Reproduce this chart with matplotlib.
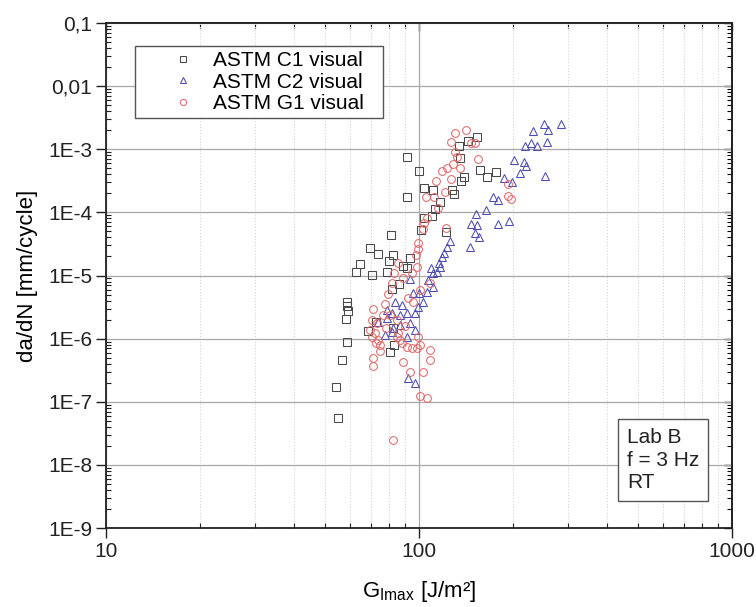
import numpy as np
import matplotlib
matplotlib.use('Agg')
import matplotlib.pyplot as plt
from matplotlib.ticker import FixedLocator, FixedFormatter, LogLocator, NullFormatter

plt.rcParams['font.family'] = ['Liberation Sans', 'DejaVu Sans']

# ---------------- data ----------------
c1_G = [91.3, 100, 91.8, 103.9, 110.7, 127.2, 129.6, 116.7, 112.9, 110.4,
        104.1, 101.5, 122.4, 134.4, 143.9, 152.7, 134.9, 156.6, 165.5, 176.2,
        139.4, 136.2, 81.4, 69.9, 73.9, 82.8, 80.2, 64.6, 62.9, 70.6,
        79.3, 88.6, 93.9, 91.3, 86.4, 81.7, 58.7, 59.2, 58.3, 58.7,
        56.9, 54.3, 55.0, 68.9, 82.8, 83.4, 80.8, 58.9, 72.9]
c1_dadn = [7.66e-4, 4.56e-4, 1.77e-4, 2.45e-4, 2.28e-4, 2.26e-4, 1.96e-4, 1.47e-4, 1.14e-4, 8.9e-5,
           8.27e-5, 5.24e-5, 4.96e-5, 1.145e-3, 1.37e-3, 1.59e-3, 7.31e-4, 4.63e-4, 3.59e-4, 4.35e-4,
           3.59e-4, 3.13e-4, 4.42e-5, 2.7e-5, 2.2e-5, 2.1e-5, 1.72e-5, 1.5e-5, 1.14e-5, 1.03e-5,
           1.15e-5, 1.42e-5, 1.87e-5, 1.3e-5, 7.44e-6, 6.15e-6, 3.79e-6, 2.73e-6, 2.01e-6, 8.9e-7,
           4.6e-7, 1.69e-7, 5.56e-8, 1.33e-6, 1.48e-6, 7.9e-7, 6.18e-7, 3.27e-6, 1.83e-6]

c2_G = [250.7, 283.6, 231.8, 258.9, 218.2, 227.5, 238.8, 255.9, 201.6, 216.6,
        219.8, 210.2, 251.8, 187.3, 198.2, 172.0, 178.4, 163.3, 152.1, 146.3,
        152.9, 178.2, 193.5, 151.0, 155.8, 145.6, 125.2, 122.6, 120.2, 118.2,
        115.7, 116.4, 114.2, 110.8, 109.0, 107.1, 111.2, 105.8, 93.6, 100.2,
        95.9, 103.2, 99.5, 97.1, 91.3, 87.0, 88.1, 83.8, 81.8, 78.9,
        78.9, 87.0, 93.6, 97.1, 81.8, 77.9, 91.3, 92.4, 97.1, 74.0, 82.6]
c2_dadn = [2.48e-3, 2.48e-3, 1.94e-3, 2.02e-3, 1.12e-3, 1.24e-3, 1.12e-3, 1.31e-3, 6.74e-4, 6.34e-4,
           5.42e-4, 4.15e-4, 3.83e-4, 3.46e-4, 3.05e-4, 1.77e-4, 1.57e-4, 1.11e-4, 9.4e-5, 6.53e-5,
           6.29e-5, 6.53e-5, 7.36e-5, 4.65e-5, 4.1e-5, 2.85e-5, 3.55e-5, 2.85e-5, 2.24e-5, 1.98e-5,
           1.55e-5, 1.37e-5, 1.14e-5, 1.08e-5, 1.3e-5, 8.46e-6, 6.67e-6, 5.52e-6, 8.67e-6, 5.32e-6,
           5.2e-6, 3.83e-6, 3.19e-6, 2.51e-6, 2.51e-6, 2.36e-6, 3.4e-6, 3.83e-6, 2.51e-6, 2.83e-6,
           2.09e-6, 1.64e-6, 1.74e-6, 1.36e-6, 1.28e-6, 1.14e-6, 1.07e-6, 2.34e-7, 1.95e-7, 1.83e-6, 1.47e-6]

g1_G = [130.3, 141.3, 126.1, 130.3, 146.1, 151.0, 131.9, 154.0, 128.7, 122.9,
        118.4, 134.9, 113.7, 126.9, 121.1, 104.9, 111.8, 115.3, 192.2, 192.0,
        196.8, 105.8, 103.9, 122.4, 103.0, 99.6, 99.5, 97.5, 98.2, 94.8,
        85.9, 83.2, 89.1, 81.8, 100.7, 108.4, 79.8, 77.9, 95.9, 92.2,
        71.5, 70.6, 73.2, 69.7, 72.3, 70.8, 74.1, 75.1, 75.1, 71.5,
        71.5, 84.9, 88.1, 91.3, 94.8, 98.3, 99.5, 100.7, 108.4, 108.4,
        89.1, 93.6, 103.2, 100.7, 105.8, 82.8, 84.9, 87.0, 78.5, 80.8,
        76.5, 86.0, 73.0, 90.5]
g1_dadn = [1.81e-3, 2.01e-3, 1.31e-3, 9.13e-4, 1.27e-3, 1.24e-3, 7.6e-4, 6.92e-4, 5.83e-4, 5.13e-4,
           4.6e-4, 4.98e-4, 3.17e-4, 3.37e-4, 2.12e-4, 1.77e-4, 1.77e-4, 1.19e-4, 2.83e-4, 1.79e-4,
           1.61e-4, 8.03e-5, 6.77e-5, 5.64e-5, 5.44e-5, 3.23e-5, 2.67e-5, 2.1e-5, 1.37e-5, 1.08e-5,
           1.55e-5, 1.08e-5, 9.0e-6, 7.5e-6, 5.87e-6, 7.5e-6, 5.07e-6, 3.52e-6, 3.83e-6, 4.38e-6,
           2.99e-6, 1.96e-6, 1.74e-6, 1.36e-6, 1.21e-6, 1.06e-6, 9.5e-7, 7.9e-7, 6.4e-7, 4.96e-7,
           3.67e-7, 1.07e-6, 8.4e-7, 7.4e-7, 7.2e-7, 7.0e-7, 1.06e-6, 7.9e-7, 6.6e-7, 4.56e-7,
           4.29e-7, 2.98e-7, 2.98e-7, 1.23e-7, 1.13e-7, 2.46e-8, 1.96e-6, 9.5e-7, 1.47e-6, 2.36e-6,
           2.4e-6, 1.25e-6, 8.6e-7, 1.6e-6]

series_labels = ['ASTM C1 visual', 'ASTM C2 visual', 'ASTM G1 visual']
x_ticks = [10, 100, 1000]
x_ticklabels = ['10', '100', '1000']
y_ticks = [1e-9, 1e-8, 1e-7, 1e-6, 1e-5, 1e-4, 1e-3, 1e-2, 1e-1]
y_ticklabels = ['1E-9', '1E-8', '1E-7', '1E-6', '1E-5', '1E-4', '1E-3', '0,01', '0,1']
note_text = 'Lab B\nf = 3 Hz\nRT'

# ---------------- figure ----------------
W, H = 756, 607
fig = plt.figure(figsize=(W / 100, H / 100), dpi=100)
L, R, T, B = 106, 732, 23, 528
ax = fig.add_axes([L / W, 1 - B / H, (R - L) / W, (B - T) / H])
ax.set_xscale('log')
ax.set_yscale('log')
ax.set_xlim(10, 1000)
ax.set_ylim(1e-9, 0.1)

mew = 0.75
ax.plot(c1_G, c1_dadn, ls='none', marker='s', mfc='none', mec='#4a4a4a', ms=5.2, mew=mew,
        label=series_labels[0], zorder=3)
ax.plot(c2_G, c2_dadn, ls='none', marker='^', mfc='none', mec='#4c4cb4', ms=6.0, mew=mew,
        label=series_labels[1], zorder=3)
ax.plot(g1_G, g1_dadn, ls='none', marker='o', mfc='none', mec='#e06a6a', ms=5.6, mew=mew,
        label=series_labels[2], zorder=3)

# ticks
ax.xaxis.set_major_locator(FixedLocator(x_ticks))
ax.xaxis.set_major_formatter(FixedFormatter(x_ticklabels))
ax.yaxis.set_major_locator(FixedLocator(y_ticks))
ax.yaxis.set_major_formatter(FixedFormatter(y_ticklabels))
for axis in (ax.xaxis, ax.yaxis):
    axis.set_minor_locator(LogLocator(base=10, subs=np.arange(2, 10), numticks=50))
    axis.set_minor_formatter(NullFormatter())
ax.tick_params(which='major', direction='out', length=7, width=1.0, labelsize=15,
               pad=3, colors='#222222')
ax.tick_params(which='minor', direction='in', length=3.5, width=0.8, colors='#222222')

# top / right mirrored ticks (inward)
sx = ax.secondary_xaxis('top')
sx.xaxis.set_major_locator(FixedLocator(x_ticks))
sx.xaxis.set_minor_locator(LogLocator(base=10, subs=np.arange(2, 10), numticks=50))
sx.xaxis.set_major_formatter(NullFormatter())
sx.xaxis.set_minor_formatter(NullFormatter())
sx.tick_params(which='major', direction='in', length=6, width=1.0)
sx.tick_params(which='minor', direction='in', length=3.5, width=0.8)
sy = ax.secondary_yaxis('right')
sy.yaxis.set_major_locator(FixedLocator(y_ticks))
sy.yaxis.set_minor_locator(LogLocator(base=10, subs=np.arange(2, 10), numticks=50))
sy.yaxis.set_major_formatter(NullFormatter())
sy.yaxis.set_minor_formatter(NullFormatter())
sy.tick_params(which='major', direction='in', length=6, width=1.0)
sy.tick_params(which='minor', direction='in', length=3.5, width=0.8)

for s in ax.spines.values():
    s.set_linewidth(1.3)
    s.set_color('#222222')
for sec in (sx, sy):
    for s in sec.spines.values():
        s.set_linewidth(1.3)
        s.set_color('#222222')

# grid
ax.grid(which='major', axis='both', color='#a8a8a8', lw=0.9, zorder=0)
ax.grid(which='minor', axis='x', color='#d4d4d4', ls=':', lw=0.8, zorder=0)
ax.set_axisbelow(True)

# labels
ax.set_ylabel('da/dN [mm/cycle]', fontsize=16)
ax.yaxis.set_label_coords(-0.108, 0.5)
ax.set_xlabel(r'G$_{\mathregular{Imax}}$ [J/m²]', fontsize=16)
ax.xaxis.set_label_coords(0.5, -0.100)

# legend
lx0 = (135 - L) / (R - L)
ly1 = 1 - (46 - T) / (B - T)
lw = (383 - 135) / (R - L)
lh = (128 - 46) / (B - T)
leg = ax.legend(loc='upper left', bbox_to_anchor=(lx0, ly1 - lh, lw, lh), mode='expand',
                fontsize=15, frameon=True, fancybox=False, borderaxespad=0,
                borderpad=0.25, labelspacing=0.12, handlelength=4.1, handletextpad=-0.6,
                markerscale=0.8)
leg.get_frame().set_edgecolor('#555555')
leg.get_frame().set_linewidth(1.0)
leg.get_frame().set_facecolor('white')
leg.get_frame().set_alpha(1)

# note box
ax.text((627 - L) / (R - L), 1 - (428 - T) / (B - T), note_text, transform=ax.transAxes,
        fontsize=15, va='top', ha='left', linespacing=1.25, color='#222222',
        bbox=dict(boxstyle='square,pad=0.42', fc='white', ec='#555555', lw=1.0), zorder=5)

fig.savefig('out.png', dpi=100)
